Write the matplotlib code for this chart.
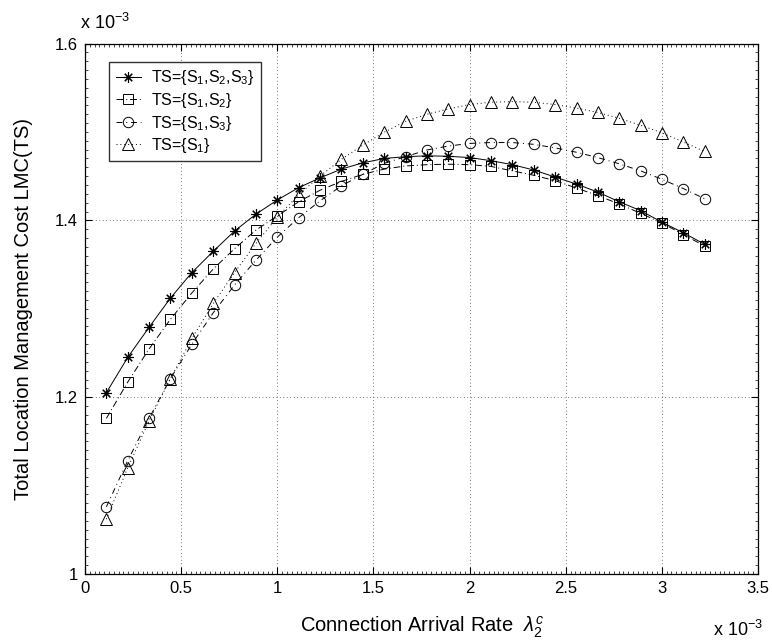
import matplotlib

matplotlib.use("Agg")
import matplotlib.pyplot as plt
from matplotlib.ticker import MultipleLocator

plt.rcParams['font.family'] = ['Liberation Sans', 'DejaVu Sans']
plt.rcParams['mathtext.fontset'] = 'custom'
plt.rcParams['mathtext.rm'] = 'Liberation Sans'
plt.rcParams['mathtext.it'] = 'Liberation Sans:italic'

# connection arrival rate (x 1e-3)
rate = [0.111, 0.222, 0.333, 0.444, 0.556, 0.667, 0.778, 0.889, 1.0, 1.111,
        1.222, 1.333, 1.444, 1.556, 1.667, 1.778, 1.889, 2.0, 2.111, 2.222,
        2.333, 2.444, 2.556, 2.667, 2.778, 2.889, 3.0, 3.111, 3.222]

# total location management cost (x 1e-3)
lmc_s123 = [1.205, 1.245, 1.279, 1.312, 1.341, 1.365, 1.388, 1.407, 1.423, 1.437,
            1.448, 1.458, 1.465, 1.470, 1.472, 1.473, 1.4725, 1.471, 1.4675, 1.463,
            1.457, 1.449, 1.441, 1.432, 1.421, 1.411, 1.398, 1.386, 1.373]
lmc_s12 = [1.176, 1.217, 1.2545, 1.288, 1.318, 1.345, 1.368, 1.389, 1.405, 1.421,
           1.434, 1.444, 1.452, 1.458, 1.4615, 1.463, 1.4635, 1.463, 1.461, 1.456,
           1.451, 1.445, 1.4365, 1.428, 1.4185, 1.408, 1.397, 1.384, 1.371]
lmc_s13 = [1.076, 1.128, 1.176, 1.221, 1.260, 1.2955, 1.327, 1.355, 1.381, 1.403,
           1.422, 1.439, 1.452, 1.4645, 1.472, 1.4796, 1.484, 1.487, 1.488, 1.488,
           1.486, 1.482, 1.477, 1.471, 1.464, 1.456, 1.4465, 1.436, 1.4245]
lmc_s1 = [1.062, 1.120, 1.173, 1.221, 1.2665, 1.306, 1.341, 1.374, 1.4035, 1.429,
          1.450, 1.469, 1.485, 1.4997, 1.512, 1.520, 1.526, 1.531, 1.5336, 1.5343,
          1.5336, 1.531, 1.527, 1.522, 1.5155, 1.5076, 1.499, 1.4887, 1.478]

labels = [r'TS={S$_1$,S$_2$,S$_3$}', r'TS={S$_1$,S$_2$}',
          r'TS={S$_1$,S$_3$}', r'TS={S$_1$}']

fig = plt.figure(figsize=(7.72, 6.41), dpi=100)
ax = fig.add_axes([0.1101, 0.1045, 0.8718, 0.8276])

lw = 0.7
ax.plot(rate, lmc_s123, color='black', lw=lw, ls='-', marker=(8, 2, 0),
        ms=7.5, mew=0.8, label=labels[0])
ax.plot(rate, lmc_s12, color='black', lw=lw, ls=(0, (7, 3, 1, 3)), marker='s',
        ms=6.5, mfc='none', mew=0.7, label=labels[1])
ax.plot(rate, lmc_s13, color='black', lw=lw, ls=(0, (6, 4, 1, 4)), marker='o',
        ms=7.5, mfc='none', mew=0.7, label=labels[2])
ax.plot(rate, lmc_s1, color='black', lw=lw, ls=(0, (1, 3)), marker='^',
        ms=8.5, mfc='none', mew=0.7, label=labels[3])

ax.set_xlim(0, 3.5)
ax.set_ylim(1.0, 1.6)
ax.set_xticks([0, 0.5, 1, 1.5, 2, 2.5, 3, 3.5])
ax.set_xticklabels(['0', '0.5', '1', '1.5', '2', '2.5', '3', '3.5'])
ax.set_yticks([1.0, 1.2, 1.4, 1.6])
ax.set_yticklabels(['1', '1.2', '1.4', '1.6'])
ax.xaxis.set_minor_locator(MultipleLocator(0.025))
ax.yaxis.set_minor_locator(MultipleLocator(0.01))
ax.tick_params(which='major', direction='in', length=5, width=0.8,
               top=True, right=True, labelsize=12, pad=5)
ax.tick_params(which='minor', direction='in', length=2, width=0.5,
               top=True, right=True)
ax.grid(True, which='major', ls=(0, (1, 4)), color='black', lw=0.5)
for sp in ax.spines.values():
    sp.set_linewidth(0.9)

ax.set_xlabel(r'Connection Arrival Rate  $\lambda_2^c$', fontsize=14.5, labelpad=13)
ax.set_ylabel('Total Location Management Cost LMC(TS)', fontsize=14.5, labelpad=16)

fig.text(0.104, 0.955, r'x 10$^{-3}$', fontsize=13, ha='left', va='baseline')
fig.text(0.923, 0.008, r'x 10$^{-3}$', fontsize=13, ha='left', va='baseline')

leg = ax.legend(loc='upper left', bbox_to_anchor=(0.036, 0.965), borderaxespad=0,
                fontsize=11.5, frameon=True, fancybox=False, handlelength=1.6,
                handletextpad=0.6, labelspacing=0.22, borderpad=0.4)
leg.get_frame().set_edgecolor('black')
leg.get_frame().set_linewidth(1.0)

fig.savefig('out.png', dpi=100)
